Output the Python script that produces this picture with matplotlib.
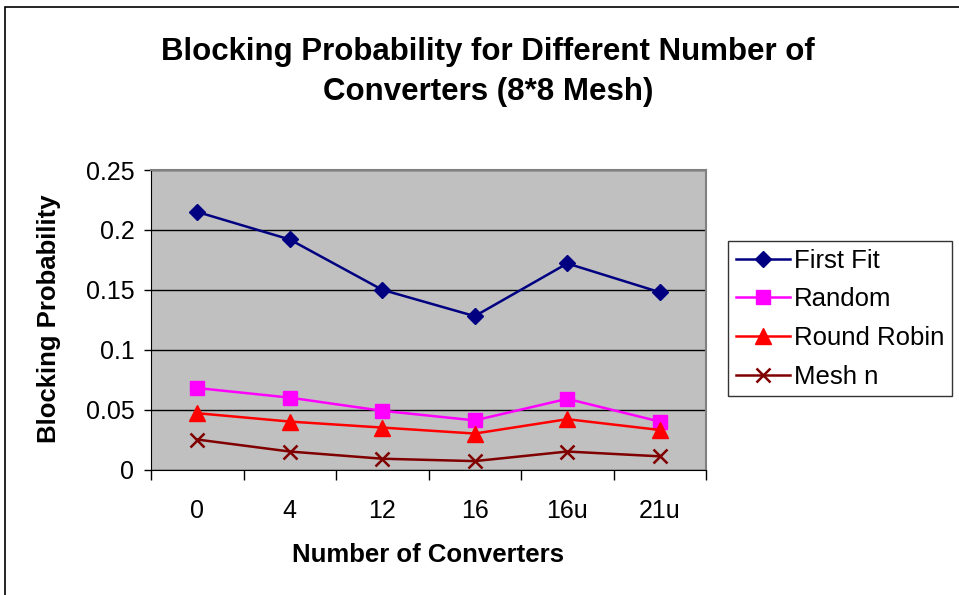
import numpy as np
import matplotlib.pyplot as plt
from matplotlib.patches import Rectangle

plt.rcParams['font.family'] = ['Liberation Sans', 'DejaVu Sans']

categories = ['0', '4', '12', '16', '16u', '21u']
first_fit = [0.215, 0.192, 0.150, 0.128, 0.172, 0.148]
random_sel = [0.068, 0.060, 0.049, 0.041, 0.059, 0.040]
round_robin = [0.047, 0.040, 0.035, 0.030, 0.042, 0.033]
mesh_n = [0.025, 0.015, 0.009, 0.007, 0.015, 0.011]

fig = plt.figure(figsize=(9.59, 5.95), dpi=100)
W, H = 959, 595
ax = fig.add_axes([151 / W, 1 - 469.5 / H, (706 - 151) / W, (469.5 - 170) / H])

# chart border (runs off the right and bottom edges like the original)
fig.patches.append(Rectangle((5 / W, -0.1), 1.2, 1 - 7 / H + 0.1, transform=fig.transFigure,
                             fill=False, edgecolor='black', linewidth=1.2))

x = np.arange(len(categories))
ax.set_facecolor('#C0C0C0')
ax.plot(x, first_fit, color='#000080', marker='D', markersize=8, lw=1.8, label='First Fit')
ax.plot(x, random_sel, color='#FF00FF', marker='s', markersize=10, lw=1.8, label='Random')
ax.plot(x, round_robin, color='#FF0000', marker='^', markersize=11, lw=1.8, label='Round Robin')
ax.plot(x, mesh_n, color='#800000', marker='x', markersize=10, mew=1.8, lw=1.8, label='Mesh n')

ax.set_ylim(0, 0.25)
ax.set_xlim(-0.5, len(categories) - 0.5)
ax.set_yticks([0, 0.05, 0.1, 0.15, 0.2, 0.25])
ax.set_yticklabels(['0', '0.05', '0.1', '0.15', '0.2', '0.25'], fontsize=18)
ax.yaxis.grid(True, color='black', lw=1)
ax.set_axisbelow(True)

ax.set_xticks(np.arange(-0.5, len(categories)), labels=[''] * (len(categories) + 1))
ax.set_xticks(x, minor=True)
ax.set_xticklabels(categories, minor=True, fontsize=18)
ax.tick_params(axis='x', which='major', length=7, width=1, direction='out')
ax.tick_params(axis='x', which='minor', length=0, pad=21)
ax.tick_params(axis='y', length=5, width=1, direction='out', pad=7)

for s in ['top', 'right']:
    ax.spines[s].set_color('#808080')
    ax.spines[s].set_linewidth(1.5)
for s in ['left', 'bottom']:
    ax.spines[s].set_color('black')

ax.set_xlabel('Number of Converters', fontsize=18.5, fontweight='bold')
ax.set_ylabel('Blocking Probability', fontsize=18.5, fontweight='bold')
ax.xaxis.label.set_va('center')
ax.yaxis.label.set_va('center')
ax.xaxis.set_label_coords(0.5, (469.5 - 555) / 299.5)
ax.yaxis.set_label_coords((49 - 151) / 555, 0.505)

fig.text(488 / W, 1 - 72 / H, 'Blocking Probability for Different Number of\nConverters (8*8 Mesh)',
         ha='center', va='center', fontsize=22.5, fontweight='bold', linespacing=1.4)

leg = ax.legend(loc='upper left', bbox_to_anchor=(728 / W, 1 - 241 / H),
                bbox_transform=fig.transFigure, fontsize=18.5, frameon=True, fancybox=False,
                edgecolor='black', handlelength=2.1, handletextpad=0.15, labelspacing=0.57,
                borderaxespad=0, borderpad=0.3)
leg.get_frame().set_linewidth(1)

fig.savefig('out.png', dpi=100)
